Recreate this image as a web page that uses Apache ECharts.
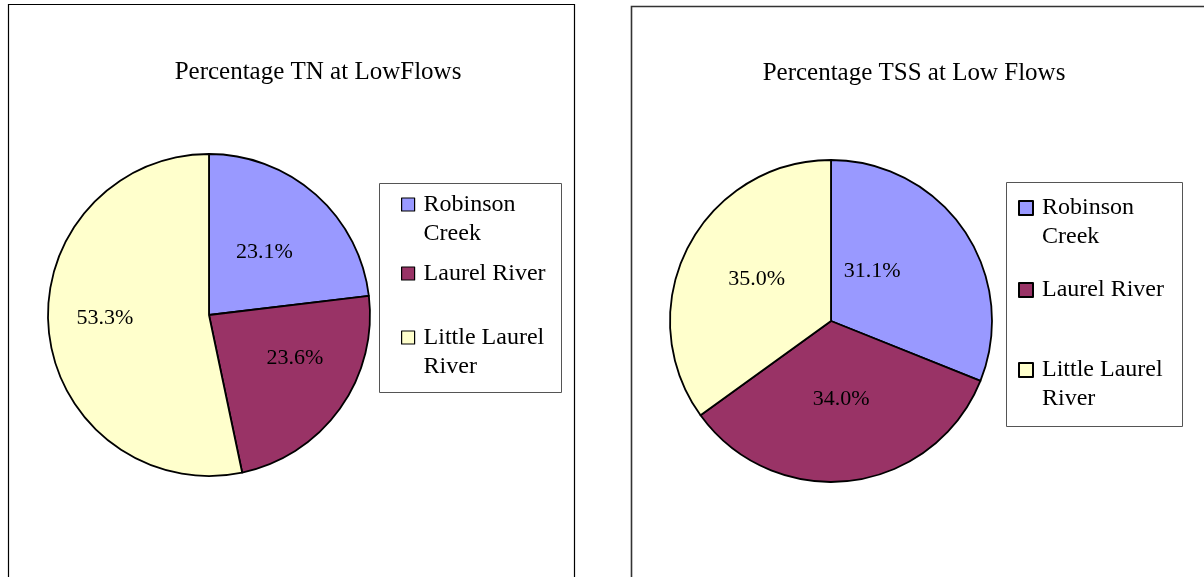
<!DOCTYPE html>
<html><head><meta charset="utf-8">
<script src="https://cdn.jsdelivr.net/npm/echarts@6/dist/echarts.min.js"></script>
<style>html,body{margin:0;padding:0;background:#fff}#c{width:1204px;height:577px}</style>
</head><body><div id="c"></div>
<script>
// ---- data ----
const categories = ['Robinson Creek', 'Laurel River', 'Little Laurel River'];
const legendLabels = ['Robinson\nCreek', 'Laurel River', 'Little Laurel\nRiver'];
const tnValues = [23.1, 23.6, 53.3];
const tssValues = [31.1, 34.0, 35.0];
const titles = ['Percentage TN at LowFlows', 'Percentage TSS at Low Flows'];

// ---- styles ----
const colors = ['#9999FF', '#993366', '#FFFFCC'];
const FONT = "'Liberation Serif', 'Times New Roman', serif";
const tnLabelOffsets = [[0, 0], [18, -5], [-21, -5]];
const tssLabelOffsets = [[-28, -3], [0, -5], [0, -4]];

function pieSeries(name, values, center, offsets) {
  return {
    type: 'pie', name: name, center: center, radius: [0, 161],
    startAngle: 90, clockwise: true, silent: true, animation: false,
    itemStyle: { borderColor: '#000', borderWidth: 1.8 },
    label: {
      show: true, position: 'inside', fontSize: 22, color: '#000', fontFamily: FONT,
      formatter: p => p.value.toFixed(1) + '%'
    },
    labelLine: { show: false },
    emphasis: { disabled: true },
    data: categories.map((c, i) => ({
      name: c, value: values[i],
      itemStyle: { color: colors[i] },
      label: { offset: offsets[i] }
    }))
  };
}

function makeLegends(iconLeft, iconTops, size, padLeft, lineH, fontSize, borderW) {
  return categories.map((c, i) => {
    const lines = legendLabels[i].split('\n').length;
    // two-line labels get a leading blank line so the first line sits beside the icon
    const boxH = lines === 2 ? 3 * lineH : lineH;
    const top = iconTops[i] - Math.max(0, boxH / 2 - size / 2);
    return {
      data: [c], left: iconLeft, top: top, orient: 'vertical', padding: 0,
      itemWidth: size, itemHeight: size, icon: 'rect', selectedMode: false,
      itemStyle: { borderColor: '#000', borderWidth: borderW },
      formatter: n => {
        const t = legendLabels[categories.indexOf(n)];
        return t.indexOf('\n') >= 0 ? '\u00a0\n' + t : t;
      },
      textStyle: { fontFamily: FONT, fontSize: fontSize, lineHeight: lineH, color: '#000',
                   padding: [0, 0, 0, padLeft] }
    };
  });
}

const chart = echarts.init(document.getElementById('c'), null, { renderer: 'canvas' });
chart.setOption({
  animation: false,
  backgroundColor: '#fff',
  title: [
    { text: titles[0], left: 318, top: 60, textAlign: 'center', padding: 0,
      textStyle: { fontFamily: FONT, fontSize: 25, fontWeight: 'normal', color: '#000' } },
    { text: titles[1], left: 914, top: 61, textAlign: 'center', padding: 0,
      textStyle: { fontFamily: FONT, fontSize: 25, fontWeight: 'normal', color: '#000' } }
  ],
  legend: makeLegends(401, [198, 267, 331], 13, 4, 29, 24, 1.2)
    .concat(makeLegends(1018, [201, 283, 363], 14, 4, 29, 24, 2)),
  graphic: [
    { type: 'rect', shape: { x: 8.5, y: 4.5, width: 566, height: 620 }, style: { fill: null, stroke: '#000', lineWidth: 1.2 }, silent: true, z: -1 },
    { type: 'rect', shape: { x: 631.5, y: 6.5, width: 620, height: 620 }, style: { fill: null, stroke: '#333', lineWidth: 1.6 }, silent: true, z: -1 },
    { type: 'rect', shape: { x: 379.5, y: 183.5, width: 182, height: 209 }, style: { fill: null, stroke: '#555', lineWidth: 1 }, silent: true, z: -1 },
    { type: 'rect', shape: { x: 1006.5, y: 182.5, width: 176, height: 244 }, style: { fill: null, stroke: '#555', lineWidth: 1 }, silent: true, z: -1 }
  ],
  series: [
    pieSeries('TN', tnValues, [209, 315], tnLabelOffsets),
    pieSeries('TSS', tssValues, [831, 321], tssLabelOffsets)
  ]
});
</script></body></html>
